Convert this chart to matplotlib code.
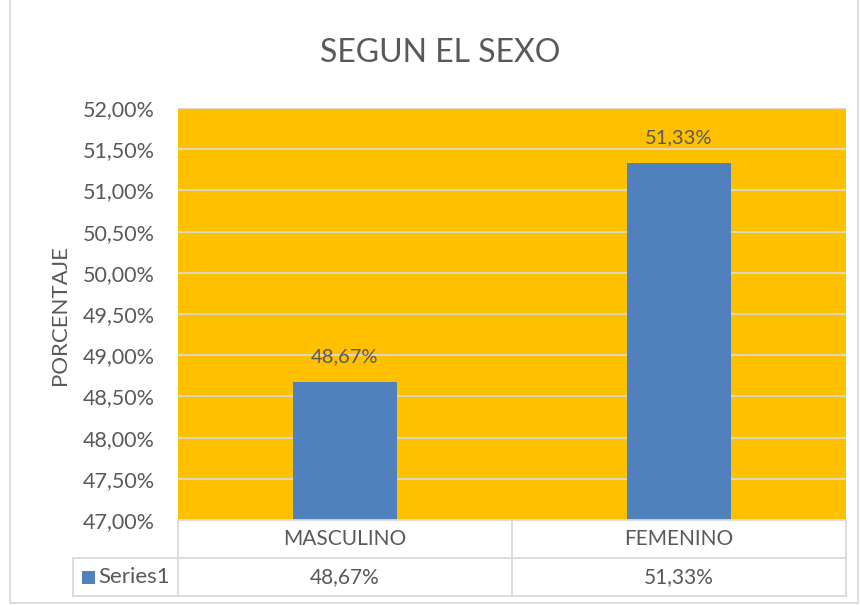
import matplotlib.pyplot as plt
from matplotlib.lines import Line2D
from matplotlib.patches import Rectangle

plt.rcParams['font.family'] = ['Lato', 'DejaVu Sans']

# === Data
categories = ["MASCULINO", "FEMENINO"]
values = [48.67, 51.33]
series_name = "Series1"
y_ticks = [47.0, 47.5, 48.0, 48.5, 49.0, 49.5, 50.0, 50.5, 51.0, 51.5, 52.0]

text_color = "#595959"
bar_color = "#4F81BD"
grid_color = "#D9D9D9"


def pct(v):
    return f"{v:.2f}%".replace(".", ",")


fig = plt.figure(figsize=(8.61, 6.05), dpi=100)
W, H = 861, 605
ax = fig.add_axes([178 / W, 1 - 520 / H, 668 / W, 412 / H])

ax.set_facecolor("#FFC000")
x = range(len(categories))
ax.bar(x, values, width=0.31, color=bar_color, zorder=3)
ax.set_ylim(47, 52)
ax.set_xlim(-0.5, len(categories) - 0.5)
ax.set_yticks(y_ticks)
ax.set_yticklabels([pct(v) for v in y_ticks], fontsize=15.5, color=text_color)
ax.set_xticks([])
ax.tick_params(axis="y", length=0, pad=16.5)
ax.grid(axis="y", color=grid_color, linewidth=1.3, zorder=1)
for s in ax.spines.values():
    s.set_visible(False)

# data labels
for i, v in enumerate(values):
    ax.annotate(pct(v), (i, v), xytext=(0, 12), textcoords="offset points",
                ha="center", va="bottom", fontsize=14.5, color=text_color)

fig.text(440 / W, 1 - 53 / H, "SEGUN EL SEXO", ha="center", va="center",
         fontsize=23, color=text_color)
fig.text(60 / W, 1 - 315 / H, "PORCENTAJE", ha="center", va="center",
         rotation=90, fontsize=16, color=text_color)

# === Data table below the plot
tr = fig.transFigure
left_tab, x0, x1 = 73, 178, 846
xm = (x0 + x1) / 2
r0, r1, r2 = 520, 558, 596
lc = dict(color=grid_color, linewidth=1.3, transform=tr)


def L(xa, ya, xb, yb):
    fig.add_artist(Line2D([xa / W, xb / W], [1 - ya / H, 1 - yb / H], **lc))


L(x0, r0, x0, r2)
L(xm, r0, xm, r2)
L(x1, r0, x1, r2)
L(left_tab, r1, left_tab, r2)
L(x0, r0, x1, r0)
L(left_tab, r1, x1, r1)
L(left_tab, r2, x1, r2)

col_centers = [(x0 + xm) / 2, (xm + x1) / 2]
for cx, cat, v in zip(col_centers, categories, values):
    fig.text(cx / W, 1 - (r0 + r1) / 2 / H, cat, ha="center", va="center",
             fontsize=15, color=text_color)
    fig.text(cx / W, 1 - (r1 + r2) / 2 / H, pct(v), ha="center", va="center",
             fontsize=15, color=text_color)

fig.add_artist(Rectangle((82 / W, 1 - 584 / H), 13 / W, 13 / H,
                         facecolor=bar_color, transform=tr))
fig.text(98 / W, 1 - (r1 + r2) / 2 / H, series_name, ha="left", va="center",
         fontsize=16, color=text_color)

# outer chart border
fig.add_artist(Rectangle((10 / W, 2 / H), 848 / W, 1.2, fill=False,
                         edgecolor=grid_color, linewidth=1.3, transform=tr))

fig.savefig("out.png", dpi=100)
